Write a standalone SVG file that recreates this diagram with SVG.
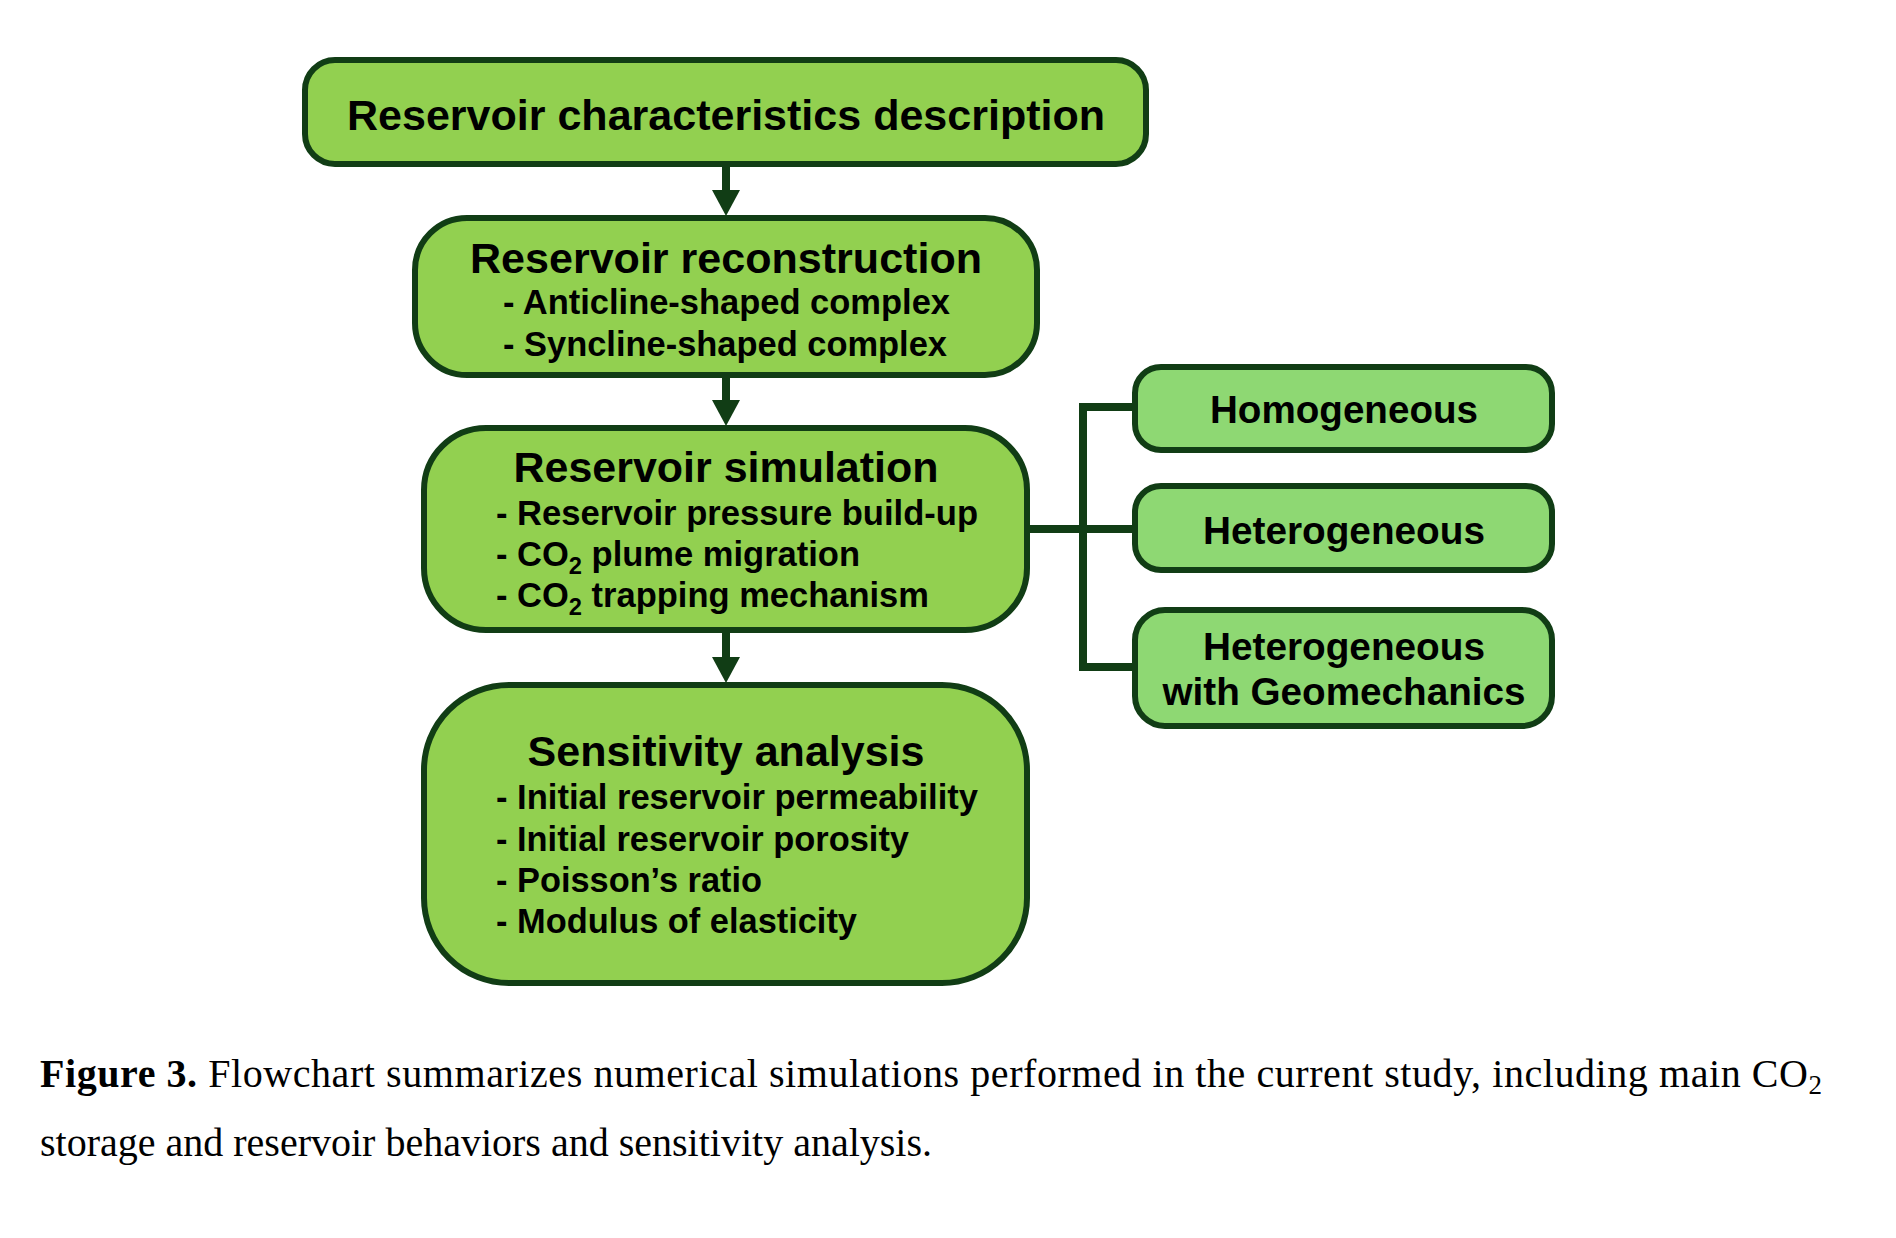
<svg xmlns="http://www.w3.org/2000/svg" width="1896" height="1238" viewBox="0 0 1896 1238">
<style>
.box{fill:#92d050;stroke:#113d15;stroke-width:6}
.rbox{fill:#8ed873;stroke:#113d15;stroke-width:6}
.t{font-family:"Liberation Sans",Arial,sans-serif;font-weight:bold;fill:#000}
.title{font-size:43px;text-anchor:middle}
.item{font-size:35px}
.rt{font-size:39px;text-anchor:middle}
.conn{fill:none;stroke:#113d15;stroke-width:8}
.cap{font-family:"Liberation Serif","Times New Roman",serif;font-size:40px;fill:#000}
</style>
<defs>
<marker id="ah" markerUnits="userSpaceOnUse" markerWidth="26" markerHeight="28" refX="0" refY="14" orient="auto">
<path d="M0,0 L26,14 L0,28 z" fill="#113d15"/>
</marker>
</defs>
<rect width="1896" height="1238" fill="#fff"/>
<g id="connectors">
<line class="conn" x1="726" y1="166" x2="726" y2="190" marker-end="url(#ah)"/>
<line class="conn" x1="726" y1="377" x2="726" y2="400" marker-end="url(#ah)"/>
<line class="conn" x1="726" y1="632" x2="726" y2="657" marker-end="url(#ah)"/>
<path class="conn" d="M1135,407 H1083 V667 H1135" stroke-linejoin="miter"/>
<path class="conn" d="M1027,529 H1135"/>
</g>
<g id="node-characteristics">
<rect class="box" x="305" y="60" width="841" height="104" rx="30"/>
<text class="t title" x="726" y="130" textLength="758" lengthAdjust="spacingAndGlyphs">Reservoir characteristics description</text>
</g>
<g id="node-reconstruction">
<rect class="box" x="415" y="218" width="622" height="157" rx="52"/>
<text class="t title" x="726" y="273" textLength="512" lengthAdjust="spacingAndGlyphs">Reservoir reconstruction</text>
<text class="t item" x="503" y="314" textLength="447" lengthAdjust="spacingAndGlyphs">- Anticline-shaped complex</text>
<text class="t item" x="503" y="356" textLength="444" lengthAdjust="spacingAndGlyphs">- Syncline-shaped complex</text>
</g>
<g id="node-simulation">
<rect class="box" x="424" y="428" width="603" height="202" rx="62"/>
<text class="t title" x="726" y="482" textLength="425" lengthAdjust="spacingAndGlyphs">Reservoir simulation</text>
<text class="t item" x="496" y="525" textLength="482" lengthAdjust="spacingAndGlyphs">- Reservoir pressure build-up</text>
<text class="t item" x="496" y="566" textLength="364" lengthAdjust="spacingAndGlyphs">- CO<tspan font-size="24" dy="8">2</tspan><tspan dy="-8"> plume migration</tspan></text>
<text class="t item" x="496" y="607" textLength="433" lengthAdjust="spacingAndGlyphs">- CO<tspan font-size="24" dy="8">2</tspan><tspan dy="-8"> trapping mechanism</tspan></text>
</g>
<g id="node-sensitivity">
<rect class="box" x="424" y="685" width="603" height="298" rx="85"/>
<text class="t title" x="726" y="766" textLength="397" lengthAdjust="spacingAndGlyphs">Sensitivity analysis</text>
<text class="t item" x="496" y="809" textLength="482" lengthAdjust="spacingAndGlyphs">- Initial reservoir permeability</text>
<text class="t item" x="496" y="851" textLength="413" lengthAdjust="spacingAndGlyphs">- Initial reservoir porosity</text>
<text class="t item" x="496" y="892" textLength="266" lengthAdjust="spacingAndGlyphs">- Poisson’s ratio</text>
<text class="t item" x="496" y="933" textLength="361" lengthAdjust="spacingAndGlyphs">- Modulus of elasticity</text>
</g>
<g id="node-homogeneous">
<rect class="rbox" x="1135" y="367" width="417" height="83" rx="26"/>
<text class="t rt" x="1344" y="423" textLength="268" lengthAdjust="spacingAndGlyphs">Homogeneous</text>
</g>
<g id="node-heterogeneous">
<rect class="rbox" x="1135" y="486" width="417" height="84" rx="26"/>
<text class="t rt" x="1344" y="544" textLength="282" lengthAdjust="spacingAndGlyphs">Heterogeneous</text>
</g>
<g id="node-geomechanics">
<rect class="rbox" x="1135" y="610" width="417" height="116" rx="30"/>
<text class="t rt" x="1344" y="660" textLength="282" lengthAdjust="spacingAndGlyphs">Heterogeneous</text>
<text class="t rt" x="1344" y="705" textLength="363" lengthAdjust="spacingAndGlyphs">with Geomechanics</text>
</g>
<g id="caption">
<text class="cap" x="40" y="1087" textLength="1782" lengthAdjust="spacing"><tspan font-weight="bold">Figure 3.</tspan> Flowchart summarizes numerical simulations performed in the current study, including main CO<tspan font-size="27" dy="7">2</tspan></text>
<text class="cap" x="40" y="1156">storage and reservoir behaviors and sensitivity analysis.</text>
</g>
</svg>
